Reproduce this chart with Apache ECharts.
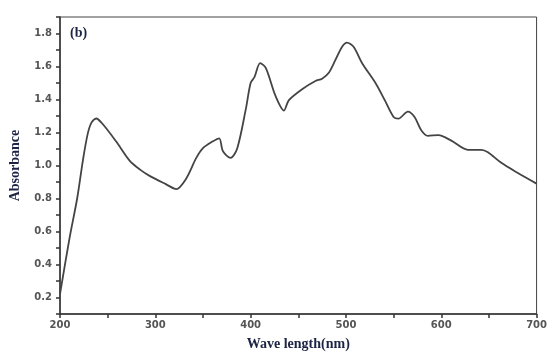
<!DOCTYPE html>
<html><head><meta charset="utf-8">
<script src="https://cdn.jsdelivr.net/npm/echarts@6/dist/echarts.min.js"></script>
<style>html,body{margin:0;padding:0;background:#fff}#c{width:550px;height:356px}</style>
</head><body><div id="c"></div>
<script>
var wavelengths = [200,210,218,224,229,233,238,245,259,273,284,294,311,322,332,343,350,360,367,371,379,386,395,400,404,410,416,426,435,440,454,468,475,482,489,496,501,508,517,531,541,550,555,565,572,579,586,597,611,628,642,649,663,680,700];
var absorbance = [0.22,0.56,0.80,1.03,1.19,1.26,1.285,1.25,1.145,1.03,0.975,0.937,0.887,0.857,0.917,1.046,1.105,1.145,1.165,1.086,1.046,1.105,1.343,1.50,1.535,1.62,1.59,1.423,1.333,1.395,1.462,1.512,1.526,1.562,1.64,1.72,1.745,1.72,1.62,1.50,1.393,1.294,1.284,1.327,1.294,1.214,1.18,1.184,1.149,1.095,1.095,1.08,1.016,0.956,0.89];
var xTickLabels = ['200','300','400','500','600','700'];
var yTickLabels = ['0.2','0.4','0.6','0.8','1.0','1.2','1.4','1.6','1.8'];

var pts = wavelengths.map(function(w,i){return [w, absorbance[i]];});
var chart = echarts.init(document.getElementById('c'));
var labelStyle = {color:'#555', fontFamily:'DejaVu Sans', fontWeight:'bold', fontSize:10};
chart.setOption({
  animation:false,
  backgroundColor:'#fff',
  grid:{left:60, right:11, top:17, bottom:37, show:true, borderColor:'#444', borderWidth:1},
  title:{text:'(b)', left:65, top:21, textStyle:{fontFamily:'Liberation Serif', fontWeight:'bold', fontSize:14, color:'#1c2345'}},
  xAxis:{type:'value', min:200, max:700, interval:50,
    name:'Wave length(nm)', nameLocation:'middle', nameGap:23,
    nameTextStyle:{fontFamily:'Liberation Serif', fontWeight:'bold', fontSize:14, color:'#1c2345'},
    axisLine:{lineStyle:{color:'#333', width:1.5}},
    axisTick:{show:true, inside:false, length:4, lineStyle:{color:'#333', width:1.5}},
    splitLine:{show:false},
    axisLabel:Object.assign({margin:6, formatter:function(v){var s=String(Math.round(v)); return xTickLabels.indexOf(s)>=0?s:'';}}, labelStyle)
  },
  yAxis:{type:'value', min:0.1, max:1.9, interval:0.1,
    name:'Absorbance', nameLocation:'middle', nameGap:38,
    nameTextStyle:{fontFamily:'Liberation Serif', fontWeight:'bold', fontSize:14, color:'#1c2345'},
    axisLine:{show:true, lineStyle:{color:'#333', width:1.5}},
    axisTick:{show:true, inside:false, length:4, lineStyle:{color:'#333', width:1.5}},
    splitLine:{show:false},
    axisLabel:Object.assign({margin:8, formatter:function(v){var s=(Math.round(v*10)/10).toFixed(1); return yTickLabels.indexOf(s)>=0?s:'';}}, labelStyle)
  },
  series:[{type:'line', data:pts, smooth:0.3, symbol:'none', lineStyle:{color:'#444', width:1.8}}]
});
</script></body></html>
